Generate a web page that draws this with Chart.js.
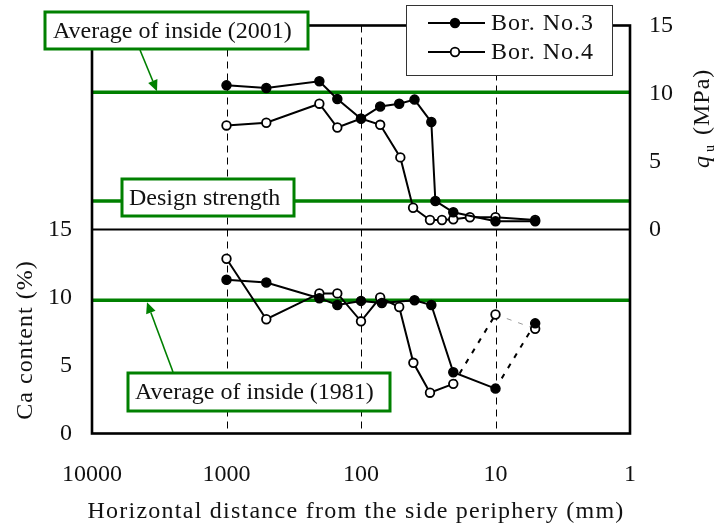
<!DOCTYPE html>
<html lang="en">
<head>
<meta charset="UTF-8" />
<title>qu and Ca content vs distance</title>
<script src="https://cdn.jsdelivr.net/npm/chart.js"></script>
<style>
  html, body { margin: 0; padding: 0; background: #fff; }
  #wrap { width: 715px; height: 528px; position: relative; }
</style>
</head>
<body>
<div id="wrap"><canvas id="chart"></canvas></div>
<script>
// horizontal distance from the side periphery (mm)
const quDist3 = [1000, 506, 204, 150, 100, 72, 52, 40, 30, 28, 20.6, 10, 5.07];
const quVals3 = [10.6, 10.4, 10.9, 9.6, 8.15, 9.05, 9.25, 9.55, 7.9, 2.1, 1.27, 0.6, 0.6];
const quDist4 = [1000, 506, 204, 150, 100, 72, 51, 41, 30.7, 25, 20.6, 15.5, 10, 5.07];
const quVals4 = [7.65, 7.85, 9.25, 7.5, 8.15, 7.7, 5.3, 1.6, 0.7, 0.7, 0.75, 0.9, 0.9, 0.7];

const caDist3 = [1000, 506, 204, 150, 100, 70, 40, 30, 20.6, 10, 5.07];
const caVals3 = [11.3, 11.1, 9.95, 9.45, 9.75, 9.6, 9.8, 9.45, 4.5, 3.3, 8.1];
const caDist4 = [1000, 506, 204, 150, 100, 72, 52, 40.8, 30.7, 20.6, 10, 5.07];
const caVals4 = [12.85, 8.4, 10.3, 10.3, 8.25, 10.0, 9.3, 5.2, 3.0, 3.65, 8.75, 7.7];

// reference levels
const quAvg2001 = 10.1;
const quDesign = 2.1;
const caAvg1981 = 9.8;

const xTicks = [1, 10, 100, 1000, 10000];
const caTicks = [0, 5, 10, 15];
const quTicks = [0, 5, 10, 15];
const seriesNames = ["Bor. No.3", "Bor. No.4"];

const QU_OFFSET = 15; // qu panel stacked above the Ca panel
const SERIF = '"Liberation Serif", "DejaVu Serif", serif';
const GREEN = "#008000";

function pts(xs, ys, off) {
  return xs.map((x, i) => ({ x: x, y: ys[i] + off }));
}

function noPad(s) {
  s.paddingTop = 0; s.paddingBottom = 0;
  s.paddingLeft = 0; s.paddingRight = 0;
}

const filled = {
  borderColor: "#000", borderWidth: 2,
  pointBackgroundColor: "#000", pointBorderColor: "#000",
  pointRadius: 4.5, pointBorderWidth: 1.5, tension: 0
};
const open = {
  borderColor: "#000", borderWidth: 2,
  pointBackgroundColor: "#fff", pointBorderColor: "#000",
  pointRadius: 4.3, pointBorderWidth: 1.8, tension: 0
};

// draws frame, reference lines, labels, legend, titles
const decor = {
  id: "decor",
  beforeDatasetsDraw(chart) {
    const { ctx, chartArea: a, scales } = chart;
    const x = scales.x, y = scales.y;
    ctx.save();
    // dashed verticals
    ctx.strokeStyle = "#000";
    ctx.lineWidth = 1;
    ctx.setLineDash([7, 5]);
    [10, 100, 1000].forEach(v => {
      const px = Math.round(x.getPixelForValue(v)) + 0.5;
      ctx.beginPath(); ctx.moveTo(px, a.top); ctx.lineTo(px, a.bottom); ctx.stroke();
    });
    ctx.setLineDash([]);
    // panel divider
    ctx.lineWidth = 2;
    const mid = y.getPixelForValue(QU_OFFSET);
    ctx.beginPath(); ctx.moveTo(a.left, mid); ctx.lineTo(a.right, mid); ctx.stroke();
    // green reference lines
    ctx.strokeStyle = GREEN;
    ctx.lineWidth = 3.5;
    [quAvg2001 + QU_OFFSET, quDesign + QU_OFFSET, caAvg1981].forEach(v => {
      const py = y.getPixelForValue(v);
      ctx.beginPath(); ctx.moveTo(a.left, py); ctx.lineTo(a.right, py); ctx.stroke();
    });
    // frame
    ctx.strokeStyle = "#000";
    ctx.lineWidth = 2.6;
    ctx.strokeRect(a.left, a.top, a.right - a.left, a.bottom - a.top);
    ctx.restore();
  },
  afterDraw(chart) {
    const { ctx, scales } = chart;
    const y = scales.y;
    ctx.save();
    ctx.textBaseline = "middle";

    function box(x0, y0, x1, y1, text, tx) {
      ctx.fillStyle = "#fff";
      ctx.fillRect(x0, y0, x1 - x0, y1 - y0);
      ctx.strokeStyle = GREEN;
      ctx.lineWidth = 3;
      ctx.strokeRect(x0, y0, x1 - x0, y1 - y0);
      ctx.fillStyle = "#111";
      ctx.font = "24px " + SERIF;
      ctx.textAlign = "left";
      ctx.fillText(text, tx, (y0 + y1) / 2 + 1);
    }
    function arrow(x0, y0, x1, y1) {
      const ang = Math.atan2(y1 - y0, x1 - x0);
      const L = 11, W = 5;
      ctx.strokeStyle = GREEN; ctx.fillStyle = GREEN;
      ctx.lineWidth = 1.6;
      ctx.beginPath(); ctx.moveTo(x0, y0);
      ctx.lineTo(x1 - L * Math.cos(ang), y1 - L * Math.sin(ang)); ctx.stroke();
      ctx.beginPath();
      ctx.moveTo(x1, y1);
      ctx.lineTo(x1 - L * Math.cos(ang) + W * Math.sin(ang), y1 - L * Math.sin(ang) - W * Math.cos(ang));
      ctx.lineTo(x1 - L * Math.cos(ang) - W * Math.sin(ang), y1 - L * Math.sin(ang) + W * Math.cos(ang));
      ctx.closePath(); ctx.fill();
    }

    const yAvg01 = y.getPixelForValue(quAvg2001 + QU_OFFSET);
    const yAvg81 = y.getPixelForValue(caAvg1981);
    arrow(140, 50, 157, yAvg01 - 1);
    arrow(173, 372, 147, yAvg81 + 2);
    box(45, 12, 308, 49, "Average of inside (2001)", 53);
    box(122, 179, 294, 216, "Design strength", 129);
    box(128, 373, 390, 411, "Average of inside (1981)", 135);

    // legend
    ctx.fillStyle = "#fff";
    ctx.fillRect(406, 5, 207, 71);
    ctx.strokeStyle = "#333";
    ctx.lineWidth = 1;
    ctx.strokeRect(406.5, 5.5, 206, 70);
    [[23, true], [52, false]].forEach(([ly, isFilled], i) => {
      ctx.strokeStyle = "#000"; ctx.lineWidth = 2;
      ctx.beginPath(); ctx.moveTo(428, ly); ctx.lineTo(485, ly); ctx.stroke();
      ctx.beginPath(); ctx.arc(455, ly, 4.3, 0, Math.PI * 2);
      ctx.fillStyle = isFilled ? "#000" : "#fff"; ctx.fill();
      ctx.lineWidth = 1.8; ctx.stroke();
      ctx.fillStyle = "#111";
      ctx.font = "24px " + SERIF;
      ctx.textAlign = "left";
      ctx.letterSpacing = "1px";
      ctx.fillText(seriesNames[i], 491, ly + 1);
      ctx.letterSpacing = "0px";
    });

    // axis titles
    ctx.fillStyle = "#111";
    ctx.font = "24px " + SERIF;
    ctx.letterSpacing = "1.25px";
    ctx.textAlign = "center";
    ctx.fillText("Horizontal distance from the side periphery (mm)", 356, 512);

    ctx.letterSpacing = "1px";
    ctx.save();
    ctx.translate(26, 340);
    ctx.rotate(-Math.PI / 2);
    ctx.fillText("Ca content (%)", 0, 0);
    ctx.restore();

    ctx.letterSpacing = "0px";
    ctx.save();
    ctx.translate(709, 168);
    ctx.rotate(-Math.PI / 2);
    ctx.textAlign = "left";
    ctx.textBaseline = "alphabetic";
    ctx.font = "italic 24px " + SERIF;
    ctx.fillText("q", 0, 0);
    let w = ctx.measureText("q").width + 4;
    ctx.font = "14px " + SERIF;
    ctx.fillText("u", w, 5);
    w += ctx.measureText("u").width + 10;
    ctx.font = "24px " + SERIF;
    ctx.letterSpacing = "1px";
    ctx.fillText("(MPa)", w, 0);
    ctx.restore();

    ctx.restore();
  }
};

new Chart(document.getElementById("chart"), {
  type: "line",
  data: {
    datasets: [
      Object.assign({ label: seriesNames[0], data: pts(quDist3, quVals3, QU_OFFSET) }, filled),
      Object.assign({ label: seriesNames[1], data: pts(quDist4, quVals4, QU_OFFSET) }, open),
      Object.assign({
        label: seriesNames[0], data: pts(caDist3, caVals3, 0),
        segment: { borderDash: c => (c.p0DataIndex >= 9 ? [5, 7] : undefined) }
      }, filled),
      Object.assign({
        label: seriesNames[1], data: pts(caDist4, caVals4, 0),
        segment: {
          borderDash: c => (c.p0DataIndex >= 9 ? [5, 7] : undefined),
          borderColor: c => (c.p0DataIndex >= 10 ? "#999" : undefined),
          borderWidth: c => (c.p0DataIndex >= 10 ? 1 : undefined)
        }
      }, open)
    ]
  },
  options: {
    responsive: true,
    maintainAspectRatio: false,
    animation: false,
    layout: { padding: { top: 25.5, left: 0, right: 0, bottom: 0 } },
    plugins: { legend: { display: false }, tooltip: { enabled: false } },
    scales: {
      x: {
        type: "logarithmic",
        reverse: true,
        min: 1, max: 10000,
        grid: { display: false, drawTicks: false },
        border: { display: false },
        afterBuildTicks: s => { s.ticks = xTicks.map(v => ({ value: v })); },
        afterFit: s => { s.height = 94.5; noPad(s); },
        ticks: {
          padding: 27,
          autoSkip: false, maxRotation: 0,
          color: "#111",
          font: { family: SERIF, size: 24 },
          callback: v => String(v)
        }
      },
      y: {
        position: "left",
        min: 0, max: 30,
        grid: { display: false, drawTicks: false },
        border: { display: false },
        afterBuildTicks: s => { s.ticks = caTicks.map(v => ({ value: v })); },
        afterFit: s => { s.width = 92; noPad(s); },
        ticks: {
          padding: 20, color: "#111",
          font: { family: SERIF, size: 24 }
        }
      },
      y2: {
        position: "right",
        min: 0, max: 30,
        grid: { display: false, drawTicks: false },
        border: { display: false },
        afterBuildTicks: s => { s.ticks = quTicks.map(v => ({ value: v + QU_OFFSET })); },
        afterFit: s => { s.width = 85; noPad(s); },
        ticks: {
          padding: 19, color: "#111",
          font: { family: SERIF, size: 24 },
          callback: v => String(v - QU_OFFSET)
        }
      }
    }
  },
  plugins: [decor]
});
</script>
</body>
</html>
